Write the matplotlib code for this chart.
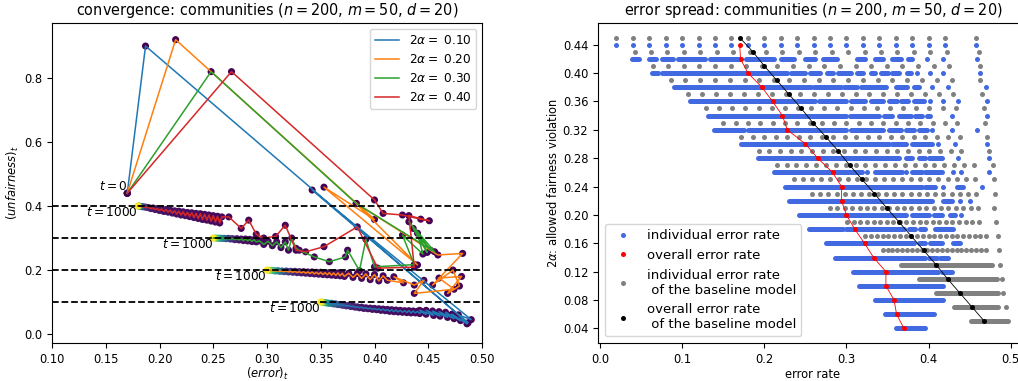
import numpy as np
import matplotlib
matplotlib.use("Agg")
import matplotlib.pyplot as plt
from matplotlib.lines import Line2D

plt.rcParams["font.size"] = 8.7
plt.rcParams["xtick.labelsize"] = 8.3
plt.rcParams["ytick.labelsize"] = 8.3
plt.rcParams["axes.labelsize"] = 8.3
plt.rcParams["axes.labelpad"] = 2.0

# ---------------- left panel: convergence trajectories ----------------
alphas = [0.10, 0.20, 0.30, 0.40]
traj_colors = ["C0", "C1", "C2", "C3"]

# 2*alpha = 0.10
b_x = [0.170, 0.187, 0.487, 0.342, 0.490,
       0.478, 0.486, 0.472, 0.480, 0.466, 0.474, 0.460, 0.468, 0.454, 0.461,
       0.448, 0.455, 0.442, 0.448,
       0.444, 0.442, 0.440, 0.438, 0.436, 0.434, 0.432, 0.430, 0.428, 0.426,
       0.424, 0.422, 0.420, 0.418, 0.416, 0.414, 0.412, 0.410, 0.408, 0.406,
       0.404, 0.402, 0.400, 0.398, 0.396, 0.394, 0.392, 0.390, 0.388, 0.386,
       0.384, 0.382, 0.380, 0.378, 0.376, 0.374, 0.372, 0.370, 0.368, 0.366,
       0.364, 0.362, 0.360, 0.358, 0.356, 0.354, 0.353, 0.352, 0.351, 0.350]
b_y = [0.440, 0.900, 0.035, 0.450, 0.045,
       0.060, 0.032, 0.062, 0.042, 0.068, 0.048, 0.070, 0.052, 0.072, 0.056,
       0.074, 0.058, 0.074, 0.062,
       0.070, 0.064, 0.071, 0.066, 0.072, 0.066, 0.073, 0.067, 0.073, 0.068,
       0.074, 0.069, 0.075, 0.070, 0.076, 0.071, 0.077, 0.073, 0.078, 0.074,
       0.079, 0.076, 0.080, 0.077, 0.081, 0.079, 0.082, 0.080, 0.084, 0.082,
       0.085, 0.084, 0.087, 0.086, 0.089, 0.088, 0.090, 0.090, 0.092, 0.092,
       0.094, 0.094, 0.096, 0.096, 0.097, 0.098, 0.0985, 0.099, 0.0995, 0.100]
b_t = [0, 1, 2, 3, 4,
       5, 6, 7, 8, 9, 10, 11, 12, 13, 14,
       15, 16, 17, 18,
       20, 21, 22, 23, 24, 25, 26, 27, 28, 29,
       30, 31, 32, 33, 34, 35, 36, 37, 38, 40,
       42, 44, 46, 48, 50, 53, 56, 60, 65, 70,
       76, 83, 92, 102, 114, 128, 145, 165, 190, 220,
       255, 300, 350, 410, 480, 580, 680, 790, 890, 1000]

# 2*alpha = 0.20
o_x = [0.170, 0.215, 0.400, 0.353, 0.440, 0.383, 0.459, 0.482, 0.454, 0.473,
       0.479, 0.468, 0.481, 0.460, 0.474, 0.437, 0.446, 0.437, 0.418, 0.427,
       0.412, 0.408, 0.404, 0.400, 0.396, 0.392, 0.388, 0.384, 0.380, 0.376, 0.372,
       0.370, 0.368, 0.366, 0.364, 0.362, 0.360, 0.358, 0.356, 0.354, 0.352,
       0.350, 0.348, 0.346, 0.344, 0.342, 0.340, 0.338, 0.336, 0.334, 0.332,
       0.330, 0.328, 0.326, 0.324, 0.322, 0.320, 0.318, 0.316, 0.314, 0.312,
       0.310, 0.308, 0.306, 0.304, 0.302, 0.300]
o_y = [0.440, 0.920, 0.358, 0.459, 0.216, 0.408, 0.247, 0.252, 0.153, 0.200,
       0.150, 0.127, 0.180, 0.175, 0.140, 0.127, 0.168, 0.153, 0.179, 0.160,
       0.168, 0.182, 0.166, 0.186, 0.170, 0.188, 0.174, 0.189, 0.177, 0.190, 0.180,
       0.190, 0.182, 0.191, 0.183, 0.191, 0.184, 0.192, 0.185, 0.192, 0.186,
       0.193, 0.187, 0.193, 0.188, 0.194, 0.189, 0.194, 0.190, 0.195, 0.191,
       0.195, 0.192, 0.196, 0.193, 0.196, 0.194, 0.197, 0.195, 0.197, 0.196,
       0.198, 0.197, 0.198, 0.199, 0.1995, 0.200]
o_t = [0, 1, 2, 3, 4, 5, 6, 7, 8, 9,
       10, 11, 12, 13, 14, 15, 16, 17, 18, 19,
       20, 21, 22, 23, 24, 25, 26, 27, 28, 29, 30,
       31, 32, 33, 34, 35, 36, 37, 38, 39, 40,
       42, 44, 46, 48, 50, 53, 56, 60, 65, 70,
       78, 88, 100, 115, 135, 160, 190, 230, 280, 340,
       420, 510, 610, 720, 850, 1000]

# 2*alpha = 0.30
g_x = [0.170, 0.248, 0.383, 0.456, 0.432, 0.452, 0.436, 0.449, 0.440, 0.445,
       0.426, 0.437, 0.400, 0.392, 0.386, 0.375, 0.373, 0.358, 0.344, 0.330,
       0.327, 0.323, 0.320, 0.317, 0.313, 0.309, 0.305, 0.301, 0.297, 0.293,
       0.290, 0.288, 0.286, 0.284, 0.282, 0.280, 0.278, 0.276, 0.274, 0.272,
       0.270, 0.268, 0.266, 0.264, 0.262, 0.260, 0.258, 0.256, 0.254, 0.252, 0.250]
g_y = [0.440, 0.820, 0.408, 0.257, 0.351, 0.262, 0.330, 0.255, 0.315, 0.250,
       0.309, 0.217, 0.210, 0.296, 0.198, 0.262, 0.241, 0.226, 0.241, 0.262,
       0.268, 0.300, 0.262, 0.288, 0.270, 0.288, 0.276, 0.290, 0.280, 0.291,
       0.288, 0.295, 0.289, 0.296, 0.291, 0.297, 0.292, 0.297, 0.294, 0.298,
       0.295, 0.298, 0.297, 0.299, 0.298, 0.299, 0.299, 0.2995, 0.2995, 0.300, 0.300]
g_t = [0, 1, 2, 3, 4, 5, 6, 7, 8, 9,
       10, 11, 12, 13, 14, 15, 16, 17, 18, 19,
       20, 21, 22, 23, 24, 25, 26, 27, 28, 29,
       30, 32, 34, 36, 38, 41, 44, 48, 55, 65,
       80, 100, 130, 170, 230, 320, 420, 530, 650, 800, 1000]

# 2*alpha = 0.40
r_x = [0.170, 0.267, 0.400, 0.408, 0.426, 0.443, 0.451, 0.432, 0.437, 0.403,
       0.384, 0.353, 0.336, 0.327, 0.317, 0.308, 0.297, 0.290, 0.283, 0.276,
       0.2645,
       0.258, 0.256, 0.254, 0.252, 0.250, 0.248, 0.246, 0.244, 0.242, 0.240,
       0.238, 0.236, 0.234, 0.232, 0.230, 0.228, 0.226, 0.224, 0.222, 0.220,
       0.218, 0.216, 0.214, 0.212, 0.210, 0.208, 0.206, 0.204, 0.202, 0.200,
       0.198, 0.196, 0.194, 0.192, 0.190, 0.188, 0.186,
       0.184, 0.183, 0.182, 0.181, 0.1805, 0.180]
r_y = [0.440, 0.820, 0.419, 0.377, 0.372, 0.359, 0.354, 0.370, 0.209, 0.206,
       0.335, 0.273, 0.257, 0.262, 0.340, 0.305, 0.300, 0.312, 0.356, 0.330,
       0.366,
       0.366, 0.347, 0.368, 0.350, 0.370, 0.353, 0.372, 0.356, 0.374, 0.358,
       0.376, 0.361, 0.377, 0.364, 0.379, 0.367, 0.380, 0.370, 0.382, 0.372,
       0.384, 0.375, 0.385, 0.378, 0.387, 0.381, 0.389, 0.383, 0.391, 0.386,
       0.392, 0.389, 0.394, 0.392, 0.395, 0.396, 0.397,
       0.398, 0.3985, 0.399, 0.3995, 0.3998, 0.400]
r_t = [0, 1, 2, 3, 4, 5, 6, 7, 8, 9,
       10, 11, 12, 13, 14, 15, 16, 17, 18, 19,
       20,
       21, 22, 23, 24, 25, 26, 27, 28, 29, 30,
       31, 32, 33, 34, 35, 36, 37, 38, 39, 40,
       41, 42, 43, 44, 45, 46, 47, 48, 49, 50,
       53, 57, 62, 70, 82, 100, 130,
       180, 260, 380, 550, 750, 1000]

# ---------------- right panel: error spread ----------------
blue_levels = [0.44, 0.42, 0.40, 0.38, 0.36, 0.34, 0.32, 0.30, 0.28, 0.26, 0.24,
               0.22, 0.20, 0.18, 0.16, 0.14, 0.12, 0.10, 0.08, 0.06, 0.04]
# runs of individual error rates, (x0, x1); x0 == x1 is a single individual
blue_runs = [
    [(0.02, 0.02), (0.04, 0.04), (0.06, 0.06), (0.08, 0.08), (0.10, 0.10), (0.12, 0.12),
     (0.14, 0.14), (0.16, 0.16), (0.18, 0.18), (0.20, 0.20), (0.22, 0.22), (0.24, 0.24),
     (0.26, 0.26), (0.28, 0.28), (0.30, 0.30), (0.32, 0.32), (0.34, 0.34), (0.36, 0.36),
     (0.38, 0.38), (0.40, 0.40), (0.42, 0.42), (0.458, 0.458)],
    [(0.039, 0.048), (0.059, 0.068), (0.076, 0.089), (0.095, 0.128), (0.134, 0.170),
     (0.178, 0.212), (0.220, 0.236), (0.250, 0.262), (0.272, 0.288), (0.313, 0.323),
     (0.335, 0.345), (0.356, 0.366), (0.375, 0.380), (0.398, 0.398), (0.418, 0.418),
     (0.459, 0.459)],
    [(0.063, 0.071), (0.075, 0.178), (0.182, 0.228), (0.232, 0.250), (0.255, 0.268),
     (0.276, 0.284), (0.290, 0.305), (0.313, 0.320), (0.330, 0.335), (0.342, 0.350),
     (0.356, 0.364), (0.374, 0.378), (0.386, 0.386), (0.402, 0.402), (0.418, 0.418),
     (0.462, 0.462)],
    [(0.090, 0.257), (0.261, 0.293), (0.297, 0.313), (0.318, 0.332), (0.335, 0.348),
     (0.360, 0.374), (0.382, 0.388), (0.404, 0.404), (0.424, 0.424), (0.470, 0.470)],
    [(0.110, 0.236), (0.240, 0.262), (0.266, 0.300), (0.305, 0.322), (0.330, 0.345),
     (0.352, 0.362), (0.366, 0.375), (0.382, 0.394), (0.402, 0.402), (0.418, 0.418),
     (0.436, 0.436), (0.471, 0.471)],
    [(0.131, 0.300), (0.304, 0.340), (0.346, 0.356), (0.364, 0.378), (0.384, 0.392),
     (0.398, 0.402), (0.428, 0.428), (0.471, 0.471)],
    [(0.139, 0.175), (0.180, 0.300), (0.305, 0.345), (0.352, 0.366), (0.372, 0.382),
     (0.388, 0.398), (0.404, 0.404), (0.428, 0.428), (0.459, 0.459)],
    [(0.172, 0.352), (0.356, 0.372), (0.380, 0.404), (0.411, 0.411), (0.432, 0.432),
     (0.471, 0.471)],
    [(0.192, 0.364), (0.372, 0.380), (0.388, 0.396), (0.400, 0.416), (0.436, 0.436),
     (0.473, 0.473)],
    [(0.212, 0.319), (0.325, 0.325), (0.335, 0.368), (0.372, 0.372), (0.380, 0.392),
     (0.396, 0.416), (0.430, 0.430), (0.440, 0.440), (0.473, 0.473)],
    [(0.225, 0.392), (0.396, 0.408), (0.418, 0.418), (0.434, 0.442), (0.465, 0.465)],
    [(0.230, 0.404), (0.418, 0.428), (0.438, 0.438), (0.450, 0.450)],
    [(0.242, 0.372), (0.380, 0.400), (0.406, 0.416), (0.426, 0.432), (0.440, 0.440)],
    [(0.254, 0.296), (0.300, 0.370), (0.376, 0.384), (0.390, 0.396), (0.408, 0.430)],
    [(0.275, 0.382), (0.388, 0.396), (0.402, 0.416), (0.430, 0.438)],
    [(0.286, 0.396), (0.400, 0.410), (0.414, 0.424)],
    [(0.308, 0.412), (0.416, 0.428)],
    [(0.315, 0.418)],
    [(0.335, 0.418)],
    [(0.347, 0.406)],
    [(0.360, 0.396)],
]
overall_err = [0.170, 0.171, 0.180, 0.197, 0.210, 0.222, 0.228, 0.250, 0.265, 0.283, 0.294,
               0.294, 0.300, 0.310, 0.322, 0.333, 0.348, 0.348, 0.358, 0.361, 0.370]

grey_levels = [0.45, 0.43, 0.41, 0.39, 0.37, 0.35, 0.33, 0.31, 0.29, 0.27, 0.25,
               0.23, 0.21, 0.19, 0.17, 0.15, 0.13, 0.11, 0.09, 0.07, 0.05]
grey_dots = [
    [0.020, 0.040, 0.060, 0.080, 0.100, 0.120, 0.140, 0.160, 0.180, 0.200, 0.220,
     0.240, 0.260, 0.280, 0.300, 0.320, 0.340, 0.360, 0.380, 0.400, 0.420, 0.458],
    [0.042, 0.062, 0.082, 0.102, 0.122, 0.142, 0.162, 0.182, 0.202, 0.222, 0.242,
     0.262, 0.282, 0.302, 0.322, 0.342, 0.362, 0.382, 0.402, 0.422, 0.461],
    [0.064, 0.083, 0.102, 0.121, 0.140, 0.159, 0.178, 0.197, 0.216, 0.235, 0.254,
     0.273, 0.292, 0.311, 0.330, 0.349, 0.368, 0.387, 0.406, 0.425, 0.462],
    [0.086, 0.104, 0.122, 0.140, 0.158, 0.176, 0.194, 0.212, 0.230, 0.248, 0.266,
     0.284, 0.302, 0.320, 0.338, 0.356, 0.374, 0.392, 0.410, 0.428, 0.463],
    [0.107, 0.124, 0.141, 0.158, 0.175, 0.192, 0.209, 0.226, 0.243, 0.260, 0.277,
     0.294, 0.311, 0.328, 0.345, 0.362, 0.379, 0.396, 0.413, 0.430, 0.465],
    [0.129, 0.145, 0.161, 0.177, 0.193, 0.209, 0.225, 0.241, 0.257, 0.273, 0.289,
     0.305, 0.321, 0.337, 0.353, 0.369, 0.385, 0.401, 0.417, 0.433, 0.468],
    [0.150, 0.165, 0.180, 0.195, 0.210, 0.225, 0.240, 0.255, 0.270, 0.285, 0.300,
     0.315, 0.330, 0.345, 0.360, 0.375, 0.390, 0.405, 0.420, 0.435, 0.469],
    [0.172, 0.186, 0.200, 0.214, 0.228, 0.242, 0.256, 0.270, 0.284, 0.298, 0.312,
     0.326, 0.340, 0.354, 0.368, 0.382, 0.396, 0.410, 0.424, 0.438, 0.471],
    [0.193, 0.206, 0.219, 0.232, 0.245, 0.258, 0.271, 0.284, 0.297, 0.310, 0.323,
     0.336, 0.349, 0.362, 0.375, 0.388, 0.401, 0.414, 0.427, 0.440, 0.473],
    [0.215, 0.227, 0.239, 0.251, 0.263, 0.275, 0.287, 0.299, 0.311, 0.323, 0.335,
     0.347, 0.359, 0.371, 0.383, 0.395, 0.407, 0.419, 0.431, 0.443, 0.455, 0.478],
    [0.236, 0.247, 0.258, 0.269, 0.280, 0.291, 0.302, 0.313, 0.324, 0.335, 0.346,
     0.357, 0.368, 0.379, 0.390, 0.401, 0.412, 0.423, 0.434, 0.445, 0.456, 0.479],
    [0.258, 0.268, 0.278, 0.288, 0.298, 0.308, 0.318, 0.328, 0.338, 0.348, 0.358,
     0.368, 0.378, 0.388, 0.398, 0.408, 0.418, 0.428, 0.438, 0.448, 0.458, 0.481],
    [0.280, 0.289, 0.298, 0.307, 0.316, 0.325, 0.334, 0.343, 0.352, 0.361, 0.370,
     0.379, 0.388, 0.397, 0.406, 0.415, 0.424, 0.433, 0.442, 0.451, 0.460, 0.480],
    [0.301, 0.309, 0.317, 0.325, 0.333, 0.341, 0.349, 0.357, 0.365, 0.373, 0.381,
     0.389, 0.397, 0.405, 0.413, 0.421, 0.429, 0.437, 0.445, 0.453, 0.461, 0.482],
    [0.323, 0.330, 0.337, 0.344, 0.351, 0.358, 0.365, 0.372, 0.379, 0.386, 0.393,
     0.400, 0.407, 0.414, 0.421, 0.428, 0.435, 0.442, 0.449, 0.456, 0.463, 0.470, 0.484],
    [0.344, 0.350, 0.356, 0.362, 0.368, 0.374, 0.380, 0.386, 0.392, 0.398, 0.404,
     0.410, 0.416, 0.422, 0.428, 0.434, 0.440, 0.446, 0.452, 0.458, 0.464, 0.470, 0.486],
    [0.487],
    [0.489],
    [0.491],
    [0.494],
    [],
]
# rows where the baseline error rates overlap into a solid band
grey_bands = [[], [], [], [], [], [], [], [], [], [], [],
              [], [], [], [], [],
              [(0.366, 0.477)], [(0.388, 0.483)], [(0.409, 0.485)],
              [(0.431, 0.485)], [(0.452, 0.497)]]
baseline_err = [0.170, 0.186, 0.200, 0.215, 0.230, 0.245, 0.259, 0.275, 0.290, 0.304, 0.319,
                0.334, 0.349, 0.364, 0.379, 0.394, 0.409, 0.423, 0.438, 0.453, 0.468]

W, H = 1018, 381
fig = plt.figure(figsize=(W / 100, H / 100), dpi=100)
ax1 = fig.add_axes([52 / W, 1 - 343 / H, 430 / W, 320 / H])
ax2 = fig.add_axes([598 / W, 1 - 343 / H, 430 / W, 320 / H])

# --- left
trajs = [(b_x, b_y, b_t), (o_x, o_y, o_t), (g_x, g_y, g_t), (r_x, r_y, r_t)]
for (xs, ys, ts), a, col in zip(trajs, alphas, traj_colors):
    ax1.scatter(xs, ys, c=ts, cmap="viridis", vmin=0, vmax=1000, s=26,
                linewidths=0, zorder=2)
    ax1.plot(xs, ys, color=col, lw=1.1, zorder=3,
             label=r"$2\alpha = $ " + "%.2f" % a)
    ax1.text(xs[-1], ys[-1], r"$t=1000$", ha="right", va="top", zorder=5)
ax1.text(b_x[0], b_y[0], r"$t=0$", ha="right", va="bottom", zorder=5)
for a in alphas:
    ax1.axhline(a, color="black", ls="--", lw=1.3, zorder=4)

ax1.set_xlim(0.1, 0.5)
ax1.set_ylim(-0.028, 0.972)
xt = [0.10, 0.15, 0.20, 0.25, 0.30, 0.35, 0.40, 0.45, 0.50]
ax1.set_xticks(xt)
ax1.set_xticklabels(["%.2f" % v for v in xt])
ax1.set_yticks([0.0, 0.2, 0.4, 0.6, 0.8])
ax1.set_yticklabels(["0.0", "0.2", "0.4", "0.6", "0.8"])
ax1.set_xlabel(r"$(error)_t$", labelpad=0.3)
ax1.set_ylabel(r"$(unfairness)_t$")
ax1.set_title(r"convergence: communities ($n = 200$, $m = 50$, $d = 20$)")
ax1.legend(loc="upper right")

# --- right
DOT_S = 13
DOT_LW = np.sqrt(DOT_S)


def draw_row(ax, y, dots, bands, color):
    for x0, x1 in bands:
        ax.plot([x0, x1], [y, y], color=color, lw=DOT_LW,
                solid_capstyle="round", zorder=2)
    if dots:
        ax.scatter(dots, [y] * len(dots), s=DOT_S, color=color,
                   linewidths=0, zorder=2)


for y, runs in zip(blue_levels, blue_runs):
    draw_row(ax2, y, [r[0] for r in runs if r[1] == r[0]],
             [r for r in runs if r[1] > r[0]], "royalblue")
for y, dots, bands in zip(grey_levels, grey_dots, grey_bands):
    draw_row(ax2, y, dots, bands, "grey")

ax2.plot(overall_err, blue_levels, color="red", lw=0.6, zorder=3)
ax2.scatter(overall_err, blue_levels, s=DOT_S, color="red", linewidths=0, zorder=4)
ax2.plot(baseline_err, grey_levels, color="black", lw=0.6, zorder=3)
ax2.scatter(baseline_err, grey_levels, s=DOT_S, color="black", linewidths=0, zorder=4)

ax2.set_xlim(-0.0025, 0.521)
ax2.set_ylim(0.0195, 0.4705)
ax2.set_xticks([0.0, 0.1, 0.2, 0.3, 0.4, 0.5])
ax2.set_xticklabels(["0.0", "0.1", "0.2", "0.3", "0.4", "0.5"])
yt = [0.04, 0.08, 0.12, 0.16, 0.20, 0.24, 0.28, 0.32, 0.36, 0.40, 0.44]
ax2.set_yticks(yt)
ax2.set_yticklabels(["%.2f" % v for v in yt])
ax2.set_xlabel("error rate")
ax2.set_ylabel(r"$2\alpha$: allowed fairness violation")
ax2.set_title(r"error spread: communities ($n = 200$, $m = 50$, $d = 20$)")

handles = [Line2D([], [], ls="", marker="o", color=c, markersize=DOT_LW, mew=0)
           for c in ["royalblue", "red", "grey", "black"]]
labels = ["individual error rate", "overall error rate",
          "individual error rate\n of the baseline model",
          "overall error rate\n of the baseline model"]
ax2.legend(handles, labels, loc="lower left", fontsize=9.5)

fig.savefig("out.png", dpi=100)
